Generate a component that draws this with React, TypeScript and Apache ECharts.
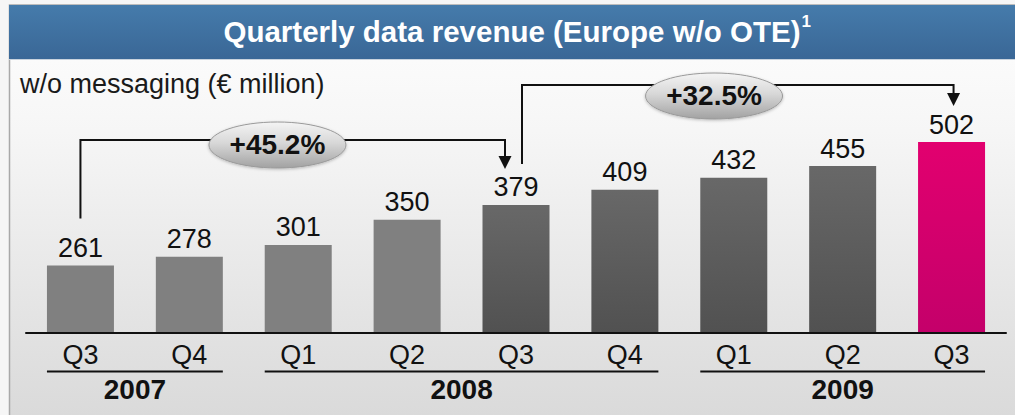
import React, { useEffect, useRef } from 'react';
import * as echarts from 'echarts';

// ---- data ----
const quarters = ['Q3', 'Q4', 'Q1', 'Q2', 'Q3', 'Q4', 'Q1', 'Q2', 'Q3'];
const revenue = [261, 278, 301, 350, 379, 409, 432, 455, 502];
const years = ['2007', '2008', '2009'];
const yearFirst = [0, 2, 6];
const yearLast = [1, 5, 8];
const growthFrom = [0, 4];
const growthTo = [4, 8];
const growthLabels = ['+45.2%', '+32.5%'];
const titleText = 'Quarterly data revenue (Europe w/o OTE)';
const titleNote = '1';
const subtitleText = 'w/o messaging (€ million)';

const FONT = '"Liberation Sans", Arial, Helvetica, sans-serif';
const NARROW_FONT = '"Liberation Sans Narrow", "Arial Narrow", "Liberation Sans", Arial, sans-serif';
const INK = '#111111';

function vgrad(stops: [number, string][]) {
  return new echarts.graphic.LinearGradient(
    0, 0, 0, 1,
    stops.map(([offset, color]) => ({ offset, color }))
  );
}

function barColor(i: number) {
  if (i === revenue.length - 1) return vgrad([[0, '#e2006f'], [1, '#c4006a']]);
  if (i >= 4) return vgrad([[0, '#686868'], [1, '#515151']]);
  return '#808080';
}

function measure(text: string, font: string) {
  const c = document.createElement('canvas').getContext('2d');
  if (!c) return text.length * 15;
  c.font = font;
  return c.measureText(text).width;
}

function hasNarrow() {
  const a = measure('Q3 2007 +45.2%', '30px "Liberation Sans Narrow", serif');
  const b = measure('Q3 2007 +45.2%', '30px serif');
  return Math.abs(a - b) > 0.5;
}

export default function App() {
  const ref = useRef<HTMLDivElement>(null);

  useEffect(() => {
    if (!ref.current) return;
    const chart = echarts.init(ref.current, null, { renderer: 'svg' });
    const barWidth = 67;
    const narrow = hasNarrow();
    const NF = narrow ? NARROW_FONT : FONT;
    const valueSize = narrow ? 31 : 27;
    const quarterSize = narrow ? 30 : 27;
    const yearSize = narrow ? 31 : 28;
    const growthSize = narrow ? 31 : 28;

    chart.setOption({
      animation: false,
      grid: { left: 26, right: 9, top: 112.3, bottom: 82.5 },
      xAxis: {
        type: 'category',
        data: quarters,
        axisLine: { show: true, lineStyle: { color: INK, width: 2 } },
        axisTick: { show: false },
        axisLabel: {
          fontSize: quarterSize,
          lineHeight: quarterSize,
          margin: narrow ? 8 : 9,
          color: INK,
          fontFamily: NF,
        },
        z: 5,
      },
      yAxis: {
        type: 'value',
        min: 130,
        max: 560,
        show: false,
        splitLine: { show: false },
      },
      series: [
        {
          type: 'bar',
          barWidth,
          z: 3,
          data: revenue.map((v, i) => ({ value: v, itemStyle: { color: barColor(i) } })),
          label: {
            show: true,
            position: 'top',
            distance: 4,
            fontSize: valueSize,
            lineHeight: valueSize,
            color: INK,
            fontFamily: NF,
          },
        },
      ],
    });

    const cx = (i: number) => chart.convertToPixel({ xAxisIndex: 0 }, i) as number;
    const py = (v: number) => chart.convertToPixel({ yAxisIndex: 0 }, v) as number;
    const axisY = py(130);

    const elements: any[] = [];

    // page & panel backgrounds
    elements.push({
      type: 'rect', z: -10, silent: true,
      shape: { x: 0, y: 0, width: 1015, height: 415 },
      style: { fill: '#f6f6f6' },
    });
    elements.push({
      type: 'rect', z: -9, silent: true,
      shape: { x: 9.5, y: 5, width: 1020, height: 420 },
      style: { fill: vgrad([[0, '#ffffff'], [0.3, '#f6f6f6'], [1, '#d9d9d9']]), stroke: '#a9a9a9', lineWidth: 1.5 },
    });
    elements.push({
      type: 'rect', z: -8, silent: true,
      shape: { x: 9, y: 5, width: 1010, height: 54 },
      style: { fill: vgrad([[0, '#457bab'], [1, '#3a6796']]) },
    });
    elements.push({
      type: 'line', z: -8, silent: true,
      shape: { x1: 9, y1: 59.5, x2: 1015, y2: 59.5 },
      style: { stroke: '#c9d3dd', lineWidth: 1 },
    });

    // title
    const titleSize = 29.5;
    const titleFont = `bold ${titleSize}px ${FONT}`;
    const titleW = measure(titleText, titleFont);
    const titleCx = 512;
    elements.push({
      type: 'text', z: 20, silent: true,
      x: titleCx, y: 31,
      style: {
        text: titleText, fill: '#ffffff', fontSize: titleSize, fontWeight: 'bold',
        fontFamily: FONT, align: 'center', verticalAlign: 'middle',
      },
    });
    elements.push({
      type: 'text', z: 20, silent: true,
      x: titleCx + titleW / 2 + 1, y: 30,
      style: {
        text: titleNote, fill: '#ffffff', fontSize: 17, fontWeight: 'bold',
        fontFamily: FONT, align: 'left', verticalAlign: 'bottom',
      },
    });

    // subtitle
    elements.push({
      type: 'text', z: 20, silent: true,
      x: 20, y: 84,
      style: {
        text: subtitleText, fill: '#1a1a1a', fontSize: 27,
        fontFamily: FONT, align: 'left', verticalAlign: 'middle',
      },
    });

    // year groups
    const underlineY = axisY + 39;
    years.forEach((yr, k) => {
      const x1 = cx(yearFirst[k]) - barWidth / 2;
      const x2 = cx(yearLast[k]) + barWidth / 2;
      elements.push({
        type: 'line', z: 20, silent: true,
        shape: { x1, y1: underlineY, x2, y2: underlineY },
        style: { stroke: INK, lineWidth: 2 },
      });
      elements.push({
        type: 'text', z: 20, silent: true,
        x: (x1 + x2) / 2, y: underlineY + 17.5,
        style: {
          text: yr, fill: INK, fontSize: yearSize, fontWeight: 'bold',
          fontFamily: NF, align: 'center', verticalAlign: 'middle',
        },
      });
    });

    // growth brackets
    const bracketY = [140, 85];
    const startDx = [0, 6];
    const endDx = [-11, 2];
    const startRise = [47, 41];
    const ellipseFrac = [0.464, 0.445];
    const ellipseDy = [5, 11];
    growthLabels.forEach((lab, k) => {
      const x1 = cx(growthFrom[k]) + startDx[k];
      const y1 = py(revenue[growthFrom[k]]) - startRise[k];
      const x2 = cx(growthTo[k]) + endDx[k];
      const tip = py(revenue[growthTo[k]]) - 36;
      const by = bracketY[k];
      elements.push({
        type: 'polyline', z: 20, silent: true,
        shape: { points: [[x1, y1], [x1, by], [x2, by], [x2, tip - 12]] },
        style: { stroke: INK, lineWidth: 2, fill: null },
      });
      elements.push({
        type: 'polygon', z: 20, silent: true,
        shape: { points: [[x2 - 6.5, tip - 13], [x2 + 6.5, tip - 13], [x2, tip]] },
        style: { fill: INK },
      });
      const ex = x1 + ellipseFrac[k] * (x2 - x1);
      const ey = by + ellipseDy[k];
      elements.push({
        type: 'ellipse', z: 21, silent: true,
        shape: { cx: ex, cy: ey, rx: 68.5, ry: 23 },
        style: {
          fill: vgrad([[0, '#f4f4f4'], [0.45, '#d8d8d8'], [1, '#a2a2a2']]),
          stroke: '#9a9a9a', lineWidth: 1,
          shadowBlur: 3, shadowColor: 'rgba(0,0,0,0.25)', shadowOffsetY: 1,
        },
      });
      elements.push({
        type: 'text', z: 22, silent: true,
        x: ex, y: ey - 1,
        style: {
          text: lab, fill: INK, fontSize: growthSize, fontWeight: 'bold',
          fontFamily: NF, align: 'center', verticalAlign: 'middle',
        },
      });
    });

    chart.setOption({ graphic: { elements } });

    return () => chart.dispose();
  }, []);

  return (
    <div
      ref={ref}
      style={{ position: 'absolute', left: 0, top: 0, width: 1015, height: 415 }}
    />
  );
}
